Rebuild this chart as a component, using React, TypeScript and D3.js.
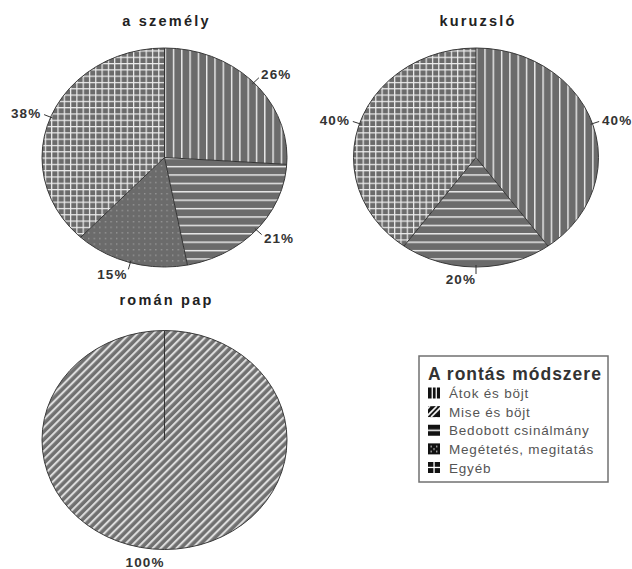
import React from "react";
import * as d3 from "d3";

const CATEGORIES = [
  "Átok és böjt",
  "Mise és böjt",
  "Bedobott csinálmány",
  "Megétetés, megitatás",
  "Egyéb",
];
const PIE_TITLES = ["a személy", "kuruzsló", "román pap"];
const SZEMELY_VALUES = [26, 0, 21, 15, 38];
const KURUZSLO_VALUES = [40, 0, 20, 0, 40];
const ROMAN_PAP_VALUES = [0, 100, 0, 0, 0];
const LEGEND_TITLE = "A rontás módszere";

const FONT = "'Liberation Sans', Arial, Helvetica, sans-serif";
const BASE = "#6b6b6b";
const LINE = "#eeeeee";
const PATTERNS = ["p-vert", "p-diag", "p-horiz", "p-dots", "p-grid"];
const SWATCHES = ["s-vert", "s-diag", "s-horiz", "s-dots", "s-grid"];

export default function App() {
  const W = 632;
  const H = 569;
  const rx = 122.5;
  const ry = 109.5;
  const k = rx / ry;
  const comp = `scale(${1 / k},1)`;

  const pies = [
    { title: PIE_TITLES[0], values: SZEMELY_VALUES, cx: 164.5, cy: 157.5, ty: 26 },
    { title: PIE_TITLES[1], values: KURUZSLO_VALUES, cx: 476, cy: 157.5, ty: 26 },
    { title: PIE_TITLES[2], values: ROMAN_PAP_VALUES, cx: 164.5, cy: 440, ty: 305 },
  ];

  const pie = d3
    .pie<number>()
    .sort(null)
    .value((d) => d);
  const arc = d3
    .arc<d3.PieArcDatum<number>>()
    .innerRadius(0)
    .outerRadius(ry);

  const legendX = 419;
  const legendY = 356;
  const rowY = d3
    .scalePoint<number>()
    .domain(d3.range(CATEGORIES.length))
    .range([393, 467.5]);

  return (
    <svg
      width={W}
      height={H}
      style={{ position: "absolute", left: 0, top: 0, background: "#fff" }}
      fontFamily={FONT}
    >
      <defs>
        {/* pie fills */}
        <pattern id="p-vert" patternUnits="userSpaceOnUse" width={8.3} height={10} patternTransform={comp}>
          <rect width={8.3} height={10} fill={BASE} />
          <rect x={0} width={1.4} height={10} fill={LINE} />
        </pattern>
        <pattern id="p-horiz" patternUnits="userSpaceOnUse" width={10} height={8.4} patternTransform={comp}>
          <rect width={10} height={8.4} fill={BASE} />
          <rect y={0} width={10} height={1.4} fill={LINE} />
        </pattern>
        <pattern id="p-grid" patternUnits="userSpaceOnUse" width={6.3} height={6.3} patternTransform={comp}>
          <rect width={6.3} height={6.3} fill={BASE} />
          <rect x={0} width={1.2} height={6.3} fill={LINE} />
          <rect y={0} width={6.3} height={1.2} fill={LINE} />
        </pattern>
        <pattern id="p-dots" patternUnits="userSpaceOnUse" width={5.6} height={5.6} patternTransform={comp}>
          <rect width={5.6} height={5.6} fill={BASE} />
          <rect x={2} y={2} width={1.2} height={1.2} fill="#a8a8a8" />
        </pattern>
        <pattern id="p-diag" patternUnits="userSpaceOnUse" width={5.6} height={10} patternTransform={`${comp} rotate(45)`}>
          <rect width={5.6} height={10} fill="#707070" />
          <rect x={0} width={2.1} height={10} fill="#dcdcdc" />
        </pattern>

        {/* legend swatches */}
        <pattern id="s-vert" patternUnits="objectBoundingBox" width={1} height={1}>
          <rect width={12} height={11} fill="#111" />
          <rect x={3.6} width={1.3} height={11} fill="#fff" />
          <rect x={7.6} width={1.3} height={11} fill="#fff" />
        </pattern>
        <pattern id="s-diag" patternUnits="objectBoundingBox" width={1} height={1}>
          <rect width={12} height={11} fill="#111" />
          <path d="M-2,11 L9,0 M3,11 L14,0 M-4,6 L2,0" stroke="#fff" strokeWidth={1.6} />
        </pattern>
        <pattern id="s-horiz" patternUnits="objectBoundingBox" width={1} height={1}>
          <rect width={12} height={11} fill="#111" />
          <rect y={4.8} width={12} height={1.5} fill="#fff" />
        </pattern>
        <pattern id="s-dots" patternUnits="objectBoundingBox" width={1} height={1}>
          <rect width={12} height={11} fill="#111" />
          <rect x={2.5} y={2.5} width={1.4} height={1.4} fill="#ccc" />
          <rect x={8} y={2.5} width={1.4} height={1.4} fill="#ccc" />
          <rect x={2.5} y={7.5} width={1.4} height={1.4} fill="#ccc" />
          <rect x={8} y={7.5} width={1.4} height={1.4} fill="#ccc" />
          <rect x={5.3} y={5} width={1.4} height={1.4} fill="#ccc" />
        </pattern>
        <pattern id="s-grid" patternUnits="objectBoundingBox" width={1} height={1}>
          <rect width={12} height={11} fill="#111" />
          <rect x={5.4} width={1.3} height={11} fill="#fff" />
          <rect y={4.8} width={12} height={1.3} fill="#fff" />
        </pattern>
      </defs>

      {pies.map((p, pi) => {
        const arcs = pie(p.values).filter((a) => a.value > 0);
        return (
          <g key={pi}>
            <text
              x={p.cx + 2}
              y={p.ty}
              textAnchor="middle"
              fontSize={14.5}
              fontWeight="bold"
              letterSpacing={2.2}
              fill="#222"
            >
              {p.title}
            </text>
            <g transform={`translate(${p.cx},${p.cy})`}>
              <g transform={`scale(${k},1)`}>
                {arcs.map((a, i) => (
                  <path key={i} d={arc(a) || ""} fill={`url(#${PATTERNS[a.index]})`} stroke="none" />
                ))}
                <ellipse rx={ry} ry={ry} fill="none" stroke="#3a3a3a" strokeWidth={1} vectorEffect="non-scaling-stroke" />
              </g>
              {arcs.map((a, i) => (
                <line
                  key={`r${i}`}
                  x1={0}
                  y1={0}
                  x2={rx * Math.sin(a.startAngle)}
                  y2={-ry * Math.cos(a.startAngle)}
                  stroke="#333"
                  strokeWidth={1}
                />
              ))}
              {arcs.map((a, i) => {
                const m = (a.startAngle + a.endAngle) / 2;
                const s = Math.sin(m);
                const c = Math.cos(m);
                const right = s > 0.01;
                return (
                  <g key={`l${i}`}>
                    {arcs.length > 1 && (
                      <line
                        x1={(rx - 2) * s}
                        y1={-(ry - 2) * c}
                        x2={(rx + 7) * s}
                        y2={-(ry + 7) * c}
                        stroke="#333"
                        strokeWidth={1}
                      />
                    )}
                    <text
                      x={(rx + 10) * s}
                      y={-(ry + 12) * c + 5}
                      textAnchor={right ? "start" : "end"}
                      fontSize={13.5}
                      fontWeight="bold"
                      letterSpacing={1.1}
                      fill="#333"
                    >
                      {`${a.value}%`}
                    </text>
                  </g>
                );
              })}
            </g>
          </g>
        );
      })}

      {/* legend */}
      <g>
        <rect
          x={legendX}
          y={legendY}
          width={189}
          height={126}
          fill="#fff"
          stroke="#707070"
          strokeWidth={1.5}
        />
        <text x={428} y={380} fontSize={17.5} fontWeight="bold" letterSpacing={1} fill="#333">
          {LEGEND_TITLE}
        </text>
        {CATEGORIES.map((c, i) => {
          const cy = rowY(i) as number;
          return (
            <g key={c}>
              <rect x={428} y={cy - 5.5} width={12} height={11} fill={`url(#${SWATCHES[i]})`} />
              <text x={449} y={cy + 5} fontSize={13.5} letterSpacing={0.8} fill="#555">
                {c}
              </text>
            </g>
          );
        })}
      </g>
    </svg>
  );
}
